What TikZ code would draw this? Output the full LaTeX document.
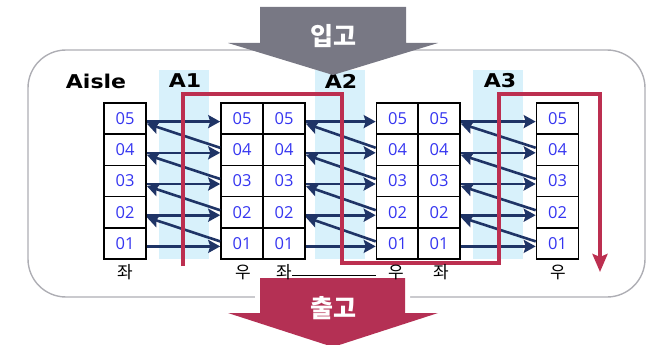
\documentclass[tikz,border=0pt]{standalone}
\usepackage{fontspec}
\setmainfont{Open Sans}
\newfontfamily\kr{Noto Sans CJK KR}
\newfontfamily\hd{DejaVu Sans}
\usetikzlibrary{arrows.meta}
\definecolor{navy}{HTML}{1F3466}
\definecolor{crimson}{HTML}{BC2F50}
\definecolor{outred}{HTML}{B43054}
\definecolor{aislebg}{HTML}{D8F1FB}
\definecolor{cellnum}{HTML}{3535F0}
\definecolor{ingray}{HTML}{787884}
\definecolor{framegray}{HTML}{AEAEB4}

\begin{document}
\begin{tikzpicture}[x=1pt,y=-1pt,
cell/.style = {% rack cells
    draw=black, line width=1.6pt, minimum width=42pt, minimum height=31.2pt,
    inner sep=0pt, text=cellnum, font=\fontsize{16.5}{16.5}\selectfont,
            },
side/.style = {font=\kr\fontsize{17}{17}\selectfont, inner sep=0pt},
hdr/.style = {font=\hd\fontsize{19}{19}\selectfont\bfseries, inner sep=0pt},
mv/.style = {navy, line width=2.6pt,
    -{Stealth[length=12pt,width=13pt,inset=2pt]}},
blk/.style = {text=white, font=\kr\fontsize{25}{25}\selectfont\bfseries},
                        ]
  \useasboundingbox (0,0) rectangle (654,345);

  % frame and aisles
  \draw[framegray, line width=1.4pt, rounded corners=38pt]
      (28,50) rectangle (645,297);
  \fill[aislebg] (159,70) rectangle (209,259);
  \fill[aislebg] (315,70) rectangle (365,259);
  \fill[aislebg] (473,70) rectangle (523,259);

  % outbound arrow
  \path[preaction={draw=white, line width=10pt}, fill=outred]
      (260,278) -- (405,278) -- (405,313) -- (438,313) -- (333,347)
      -- (228,313) -- (260,313) -- cycle;
  \node[blk] (out) at (333,308) {출고};

  % racks
  \foreach \c/\x in {a/125, b/242, c/284, d/397.5, e/439, f/557.5}
    \foreach \r in {1,...,5}
      \node[cell] (\c\r) at (\x,{103+(5.5-\r)*31.2}) {0\r};

  % picking moves
  \foreach \p/\q in {a/b, c/d, e/f} {
    \foreach \r in {1,...,5}
      \draw[mv] ([yshift=-3pt]\p\r.east) -- ([yshift=-3pt]\q\r.west);
    \foreach \r [count=\s from 2] in {1,...,4}
      \draw[mv] ([yshift=2pt]\q\r.west) -- ([yshift=-5pt]\p\s.east);
  }

  % route
  \draw[crimson, line width=3.6pt,
      -{Stealth[length=18pt,width=15pt,inset=3pt]}]
      (183,266) -- (183,94) -- (342,94) -- (342,263) -- (499,263)
      -- (499,94) -- (600,94) -- (600,272);

  % labels
  \node[hdr] (aisle) at (96,81) {\scalebox{1.16}[1]{Aisle}};
  \node[hdr] (h1) at (185,81) {\scalebox{1.16}[1]{A1}};
  \node[hdr] (h2) at (341,81) {\scalebox{1.16}[1]{A2}};
  \node[hdr] (h3) at (500,81) {\scalebox{1.16}[1]{A3}};

  \node[side] (la) at (125,272) {좌};
  \node[side] (lb) at (243,272) {우};
  \node[side] (lc) at (284,272) {좌};
  \node[side] (ld) at (396,272) {우};
  \node[side] (le) at (441,272) {좌};
  \node[side] (lf) at (558,272) {우};
  \draw[line width=0.8pt] (lc.east |- 0,275) -- (d1.west |- 0,275);

  % inbound arrow
  \fill[ingray] (260,7) -- (406,7) -- (406,43) -- (438,43) -- (333,75)
      -- (228,43) -- (260,43) -- cycle;
  \node[blk] (in) at (333,36) {입고};

\end{tikzpicture}
\end{document}
